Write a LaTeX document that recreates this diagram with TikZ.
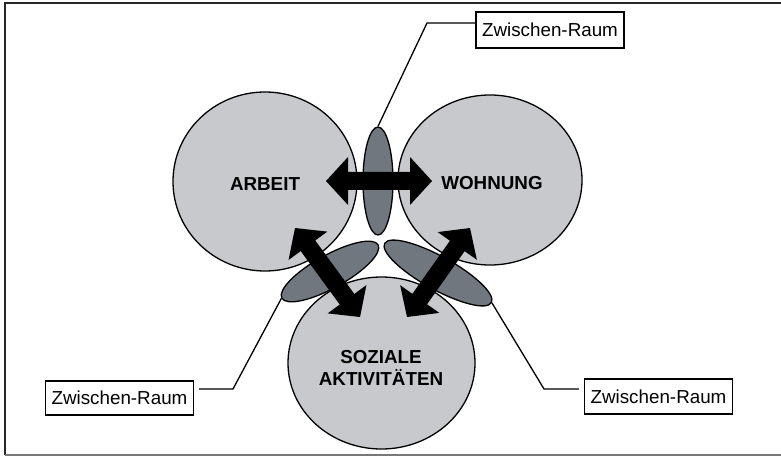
\documentclass[tikz,border=0pt]{standalone}
\usepackage{fontspec}
\setmainfont{Liberation Sans}
\usetikzlibrary{shapes.geometric,calc}
\definecolor{bigfill}{RGB}{200,201,204}
\definecolor{smallfill}{RGB}{112,119,126}
\definecolor{framegray}{RGB}{120,120,120}
\tikzset{
  bigcirc/.style={ellipse,draw=black,fill=bigfill,line width=1.3pt,inner sep=0pt},
  smallell/.style={ellipse,draw=black,fill=smallfill,line width=1.3pt,inner sep=0pt},
  bigtxt/.style={font=\bfseries\fontsize{18.8}{22}\selectfont,align=center,inner sep=0pt},
  labelbox/.style={draw=black,fill=white,line width=1.4pt,minimum width=148pt,minimum height=35pt,inner sep=0pt,font=\fontsize{18.8}{22}\selectfont},
  leader/.style={line width=1.3pt,draw=black},
}
\newcommand\dblarrow[2]{%
  \fill[black] (#1)
    -- ($(#1)!22pt!(#2)!24pt!90:(#2)$)
    -- ($(#1)!22pt!(#2)!9pt!90:(#2)$)
    -- ($(#2)!22pt!(#1)!9pt!-90:(#1)$)
    -- ($(#2)!22pt!(#1)!24pt!-90:(#1)$)
    -- (#2)
    -- ($(#2)!22pt!(#1)!24pt!90:(#1)$)
    -- ($(#2)!22pt!(#1)!9pt!90:(#1)$)
    -- ($(#1)!22pt!(#2)!9pt!-90:(#2)$)
    -- ($(#1)!22pt!(#2)!24pt!-90:(#2)$)
    -- cycle;}
\begin{document}
\begin{tikzpicture}[x=1pt,y=-1pt]
\useasboundingbox (0,0) rectangle (781,457);
\fill[white] (0,0) rectangle (781,457);
% frame
\draw[line width=1.3pt,black!85] (5,455) -- (5,3) -- (790,3);
\draw[line width=1.3pt,framegray] (5,455) -- (790,455);
% big circles
\node[bigcirc,minimum width=184pt,minimum height=179pt] (arbeit) at (265,181.5) {};
\node[bigcirc,minimum width=184pt,minimum height=170pt] (wohnung) at (490,180) {};
\node[bigcirc,minimum width=187pt,minimum height=172pt] (sozial) at (381.5,363) {};
% small ellipses
\node[smallell,minimum width=30pt,minimum height=108pt] (ezt) at (378,181) {};
\node[smallell,minimum width=110pt,minimum height=33pt,rotate=29] (ezl) at (330,271.5) {};
\node[smallell,minimum width=122pt,minimum height=33pt,rotate=-29] (ezr) at (438,273) {};
% arrows
\coordinate (h1) at (326,181);
\coordinate (h2) at (432,181);
\coordinate (l1) at (295,228);
\coordinate (l2) at (360,317);
\coordinate (r1) at (470,228);
\coordinate (r2) at (407,317);
\dblarrow{h1}{h2}
\dblarrow{l1}{l2}
\dblarrow{r1}{r2}
% texts
\node[bigtxt] (tarbeit) at (265,184) {ARBEIT};
\node[bigtxt] (twohnung) at (492,183) {WOHNUNG};
\node[bigtxt] (tsozial) at (381,368) {SOZIALE\\AKTIVITÄTEN};
% label boxes
\node[labelbox,minimum height=36pt] (zt) at (550,30) {Zwischen-Raum};
\node[labelbox,minimum height=34pt] (zl) at (119.5,398) {Zwischen-Raum};
\node[labelbox,minimum height=35pt] (zr) at (658.5,396.5) {Zwischen-Raum};
% leaders
\coordinate (bt) at (427,23);
\coordinate (bl) at (233,389);
\coordinate (br) at (544,389);
\draw[leader] (zt.west |- bt) -- (bt) -- (ezt.north);
\draw[leader] ($(zl.east |- bl)+(5,0)$) -- (bl) -- (ezl.west);
\draw[leader] ($(zr.west |- br)+(-5,0)$) -- (br) -- (ezr.east);
\end{tikzpicture}
\end{document}
